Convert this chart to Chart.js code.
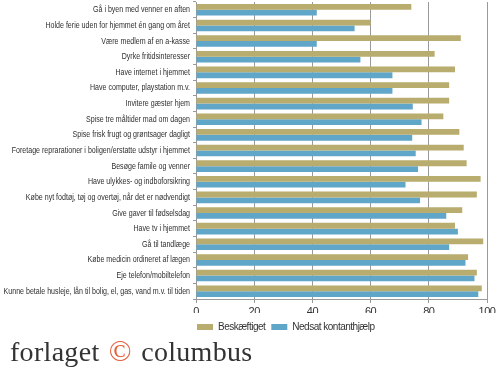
<!DOCTYPE html>
<html>
<head>
<meta charset="utf-8">
<script src="https://cdn.jsdelivr.net/npm/chart.js@4"></script>
<style>
  html, body { margin: 0; padding: 0; background: #fff; }
  #wrap { position: relative; width: 500px; height: 339px; }
  .logo {
    position: absolute; left: 10px; top: 334px;
    font-family: "Liberation Serif", "DejaVu Serif", serif;
    font-size: 28px; color: #333; letter-spacing: 0.3px; white-space: nowrap;
  }
  .logo .c { color: #e2603d; font-size: 30px; margin: 0 2px; }
</style>
</head>
<body>
<div id="wrap"><canvas id="chart"></canvas></div>
<div class="logo">forlaget <span class="c">©</span> columbus</div>
<script>
// Kategorier (fra toppen og ned)
const kategorier = [
  'Gå i byen med venner en aften',
  'Holde ferie uden for hjemmet én gang om året',
  'Være medlem af en a-kasse',
  'Dyrke fritidsinteresser',
  'Have internet i hjemmet',
  'Have computer, playstation m.v.',
  'Invitere gæster hjem',
  'Spise tre måltider mad om dagen',
  'Spise frisk frugt og grøntsager dagligt',
  'Foretage reprarationer i boligen/erstatte udstyr i hjemmet',
  'Besøge famile og venner',
  'Have ulykkes- og indboforsikring',
  'Købe nyt fodtøj, tøj og overtøj, når det er nødvendigt',
  'Give gaver til fødselsdag',
  'Have tv i hjemmet',
  'Gå til tandlæge',
  'Købe medicin ordineret af lægen',
  'Eje telefon/mobiltelefon',
  'Kunne betale husleje, lån til bolig, el, gas, vand m.v. til tiden'
];

// Procent
const beskaeftiget = [74, 60, 91, 82, 89, 87, 87, 85, 90.5, 92, 93, 97.8, 96.5, 91.5, 89, 98.7, 93.5, 96.5, 98.2];
const kontanthjaelp = [41.5, 54.5, 41.5, 56.5, 67.5, 67.5, 74.5, 77.5, 74.3, 75.5, 76.3, 72, 77, 86, 90, 87, 92.6, 95.7, 97];

const xTicks = [0, 20, 40, 60, 80, 100];

const skrift = '"Liberation Sans", Arial, sans-serif';

// Smal skrift til akse og forklaring
const smalSkrift = {
    id: 'smalSkrift',
    beforeUpdate(chart) { chart.ctx.letterSpacing = '-0.5px'; },
    beforeDraw(chart) { chart.ctx.letterSpacing = '-0.5px'; },
    afterLayout(chart) {
        // forklaringen skubbes lidt til venstre og ned
        chart.legend.left -= 5;
        chart.legend.right -= 5;
        chart.legend.top += 3;
        chart.legend.bottom += 3;
    }
};

// Smalle kategorietiketter (tegnes selv, klemt vandret)
const smalleEtiketter = {
    id: 'smalleEtiketter',
    afterDraw(chart) {
        const ctx = chart.ctx;
        const y = chart.scales.y;
        const hojre = y.right - 6;
        ctx.save();
        ctx.letterSpacing = '0px';
        ctx.font = '9px ' + skrift;
        ctx.fillStyle = '#2e2e2e';
        ctx.textAlign = 'right';
        ctx.textBaseline = 'middle';
        kategorier.forEach((tekst, i) => {
            const py = y.getPixelForValue(i);
            ctx.save();
            ctx.translate(hojre, py);
            ctx.scale(0.785, 1);
            ctx.fillText(tekst, 0, 0);
            ctx.restore();
        });
        ctx.restore();
    }
};

window.addEventListener('load', () => {
    new Chart(document.getElementById('chart').getContext('2d'), {
        type: 'bar',
        data: {
            labels: kategorier,
            datasets: [
                { label: 'Beskæftiget', data: beskaeftiget, backgroundColor: '#b8ac6f' },
                { label: 'Nedsat kontanthjælp', data: kontanthjaelp, backgroundColor: '#60a6c9' }
            ]
        },
        options: {
            indexAxis: 'y',
            responsive: true,
            maintainAspectRatio: false,
            animation: false,
            layout: { padding: { top: 2, right: 13, left: 0, bottom: 0 } },
            datasets: { bar: { categoryPercentage: 0.74, barPercentage: 1 } },
            scales: {
                x: {
                    min: 0, max: 100,
                    afterBuildTicks: (s) => { s.ticks = xTicks.map(v => ({ value: v })); },
                    afterFit: (s) => { s.height = 14; },
                    grid: { color: '#9a9a9a', lineWidth: 1, tickLength: 4 },
                    border: { color: '#9a9a9a' },
                    ticks: { color: '#333', font: { family: skrift, size: 11 }, padding: 2 }
                },
                y: {
                    afterFit: (s) => { s.width = 196; },
                    grid: { drawOnChartArea: false, color: '#9a9a9a', tickLength: 3, offset: true },
                    border: { color: '#9a9a9a' },
                    ticks: { display: false }
                }
            },
            plugins: {
                legend: {
                    position: 'bottom',
                    align: 'start',
                    fullSize: false,
                    labels: {
                        color: '#333',
                        font: { family: skrift, size: 10 },
                        boxWidth: 16,
                        boxHeight: 6,
                        padding: 6
                    }
                },
                tooltip: { enabled: false }
            }
        },
        plugins: [smalSkrift, smalleEtiketter]
    });
});
</script>
</body>
</html>
